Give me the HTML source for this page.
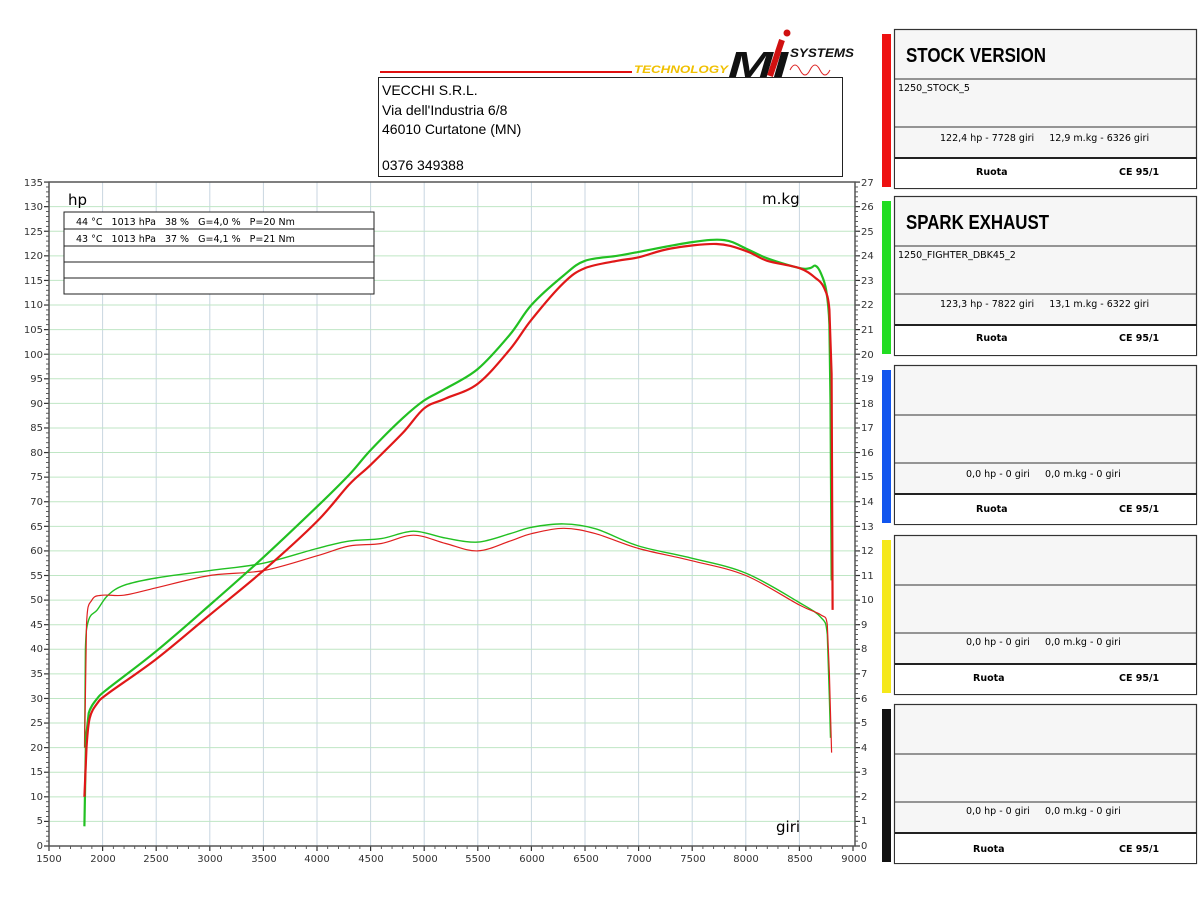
<!DOCTYPE html>
<html><head><meta charset="utf-8">
<style>
body{margin:0;background:#fff;width:1200px;height:900px;overflow:hidden}
</style></head>
<body>
<svg id="s" width="1200" height="900" viewBox="0 0 1200 900" xmlns="http://www.w3.org/2000/svg" font-family="DejaVu Sans, Liberation Sans, sans-serif">
<rect width="1200" height="900" fill="#fff"/>
<g id="grid"></g>
<!-- header -->
<line x1="380" y1="72" x2="632" y2="72" stroke="#e01010" stroke-width="2"/>
<text x="634" y="73" font-size="11" font-style="italic" font-weight="bold" fill="#f0c000" style="font-family:'Liberation Sans',sans-serif" textLength="94" lengthAdjust="spacingAndGlyphs">TECHNOLOGY</text>
<text x="728" y="77" font-size="36" font-style="italic" font-weight="bold" fill="#111" style="font-family:'Liberation Sans',sans-serif" textLength="60" lengthAdjust="spacingAndGlyphs">MI</text>
<path d="M770 76 L782 40" stroke="#d01010" stroke-width="6"/>
<circle cx="787" cy="33" r="3.5" fill="#d01010"/>
<text x="790" y="57" font-size="12" font-style="italic" font-weight="bold" fill="#111" style="font-family:'Liberation Sans',sans-serif" textLength="64" lengthAdjust="spacingAndGlyphs">SYSTEMS</text>
<path d="M790 70 q5 -10 10 0 t10 0 t10 0 t10 0" stroke="#d22" fill="none"/>
<rect x="378.5" y="77.5" width="464" height="99" fill="#fff" stroke="#222"/>
<g style="font-family:'Liberation Sans',sans-serif" font-size="14">
<text x="382" y="95">VECCHI S.R.L.</text>
<text x="382" y="115">Via dell'Industria 6/8</text>
<text x="382" y="134">46010 Curtatone (MN)</text>
<text x="382" y="170">0376 349388</text>
</g>
<!-- plot frame -->
<rect x="49" y="182" width="806" height="664" fill="none" stroke="#555" stroke-width="1.5"/>
<text x="68" y="205" font-size="15">hp</text>
<text x="762" y="204" font-size="15">m.kg</text>
<text x="776" y="832" font-size="15">giri</text>
<g stroke="#222" fill="#fff">
<rect x="64" y="212" width="310" height="82"/>
<line x1="64" y1="229" x2="374" y2="229"/><line x1="64" y1="246" x2="374" y2="246"/>
<line x1="64" y1="262" x2="374" y2="262"/><line x1="64" y1="278" x2="374" y2="278"/>
</g>
<text x="76" y="225" font-size="9.5" xml:space="preserve">44 °C   1013 hPa   38 %   G=4,0 %   P=20 Nm</text>
<text x="76" y="242" font-size="9.5" xml:space="preserve">43 °C   1013 hPa   37 %   G=4,1 %   P=21 Nm</text>
<g font-size="10" fill="#333" text-anchor="end">
<text x="43" y="849">0</text><text x="43" y="824">5</text><text x="43" y="800">10</text><text x="43" y="775">15</text><text x="43" y="751">20</text><text x="43" y="726">25</text><text x="43" y="702">30</text><text x="43" y="677">35</text><text x="43" y="652">40</text><text x="43" y="628">45</text><text x="43" y="603">50</text><text x="43" y="579">55</text><text x="43" y="554">60</text><text x="43" y="530">65</text><text x="43" y="505">70</text><text x="43" y="480">75</text><text x="43" y="456">80</text><text x="43" y="431">85</text><text x="43" y="407">90</text><text x="43" y="382">95</text><text x="43" y="358">100</text><text x="43" y="333">105</text><text x="43" y="308">110</text><text x="43" y="284">115</text><text x="43" y="259">120</text><text x="43" y="235">125</text><text x="43" y="210">130</text><text x="43" y="186">135</text>
</g>
<g font-size="10" fill="#333">
<text x="861" y="849">0</text><text x="861" y="824">1</text><text x="861" y="800">2</text><text x="861" y="775">3</text><text x="861" y="751">4</text><text x="861" y="726">5</text><text x="861" y="702">6</text><text x="861" y="677">7</text><text x="861" y="652">8</text><text x="861" y="628">9</text><text x="861" y="603">10</text><text x="861" y="579">11</text><text x="861" y="554">12</text><text x="861" y="530">13</text><text x="861" y="505">14</text><text x="861" y="480">15</text><text x="861" y="456">16</text><text x="861" y="431">17</text><text x="861" y="407">18</text><text x="861" y="382">19</text><text x="861" y="358">20</text><text x="861" y="333">21</text><text x="861" y="308">22</text><text x="861" y="284">23</text><text x="861" y="259">24</text><text x="861" y="235">25</text><text x="861" y="210">26</text><text x="861" y="186">27</text>
</g>
<g font-size="10" fill="#333" text-anchor="middle">
<text x="49" y="862">1500</text><text x="103" y="862">2000</text><text x="156" y="862">2500</text><text x="210" y="862">3000</text><text x="264" y="862">3500</text><text x="317" y="862">4000</text><text x="371" y="862">4500</text><text x="425" y="862">5000</text><text x="478" y="862">5500</text><text x="532" y="862">6000</text><text x="586" y="862">6500</text><text x="639" y="862">7000</text><text x="693" y="862">7500</text><text x="746" y="862">8000</text><text x="800" y="862">8500</text><text x="854" y="862">9000</text>
</g>
<g id="curves" fill="none" stroke-linejoin="round"></g>
<!-- right panels -->
<g id="panels"></g>
<g style="font-family:'Liberation Sans',sans-serif" font-size="20" font-weight="bold">
<text x="906" y="62" textLength="140" lengthAdjust="spacingAndGlyphs">STOCK VERSION</text>
<text x="906" y="229" textLength="143" lengthAdjust="spacingAndGlyphs">SPARK EXHAUST</text>
</g>
<g font-size="9.5">
<text x="898" y="91">1250_STOCK_5</text>
<text x="898" y="258">1250_FIGHTER_DBK45_2</text>
<text x="940" y="141" xml:space="preserve">122,4 hp - 7728 giri     12,9 m.kg - 6326 giri</text>
<text x="940" y="307" xml:space="preserve">123,3 hp - 7822 giri     13,1 m.kg - 6322 giri</text>
<text x="966" y="477" xml:space="preserve">0,0 hp - 0 giri     0,0 m.kg - 0 giri</text>
<text x="966" y="645" xml:space="preserve">0,0 hp - 0 giri     0,0 m.kg - 0 giri</text>
<text x="966" y="814" xml:space="preserve">0,0 hp - 0 giri     0,0 m.kg - 0 giri</text>
</g>
<g font-size="9.5" font-weight="bold">
<text x="976" y="175">Ruota</text><text x="1119" y="175">CE 95/1</text>
<text x="976" y="341">Ruota</text><text x="1119" y="341">CE 95/1</text>
<text x="976" y="512">Ruota</text><text x="1119" y="512">CE 95/1</text>
<text x="973" y="681">Ruota</text><text x="1119" y="681">CE 95/1</text>
<text x="973" y="852">Ruota</text><text x="1119" y="852">CE 95/1</text>
</g>
</svg>
<script>
var NS="http://www.w3.org/2000/svg";
function el(p,t,a){var e=document.createElementNS(NS,t);for(var k in a)e.setAttribute(k,a[k]);p.appendChild(e);return e;}
function X(r){return 49+(r-1500)*0.10720;}
function Y(v){return 846-v*4.918;}
var g=document.getElementById('grid');
for(var r=2000;r<9000;r+=500)el(g,'line',{x1:X(r),x2:X(r),y1:182,y2:846,stroke:'#c8d6e0','stroke-width':1});
for(var v=5;v<135;v+=5)el(g,'line',{x1:49,x2:855,y1:Y(v),y2:Y(v),stroke:'#bfe6c4','stroke-width':1});
for(var v=0;v<=135;v+=1){var big=v%5==0;el(g,'line',{x1:big?44:46,x2:49,y1:Y(v),y2:Y(v),stroke:'#333','stroke-width':big?1.2:0.8});
el(g,'line',{x1:855,x2:big?860:858,y1:Y(v),y2:Y(v),stroke:'#333','stroke-width':big?1.2:0.8});}
for(var r=1500;r<=9000;r+=100){var big=r%500==0;el(g,'line',{x1:X(r),x2:X(r),y1:846,y2:big?851:849,stroke:'#333','stroke-width':big?1.2:0.8});}
function path(pts,col,w){
var P=pts.map(function(p){return [X(p[0]),Y(p[1])];});
var d='M'+P[0][0].toFixed(1)+' '+P[0][1].toFixed(1);
for(var i=0;i<P.length-1;i++){var p0=P[i-1]||P[i],p1=P[i],p2=P[i+1],p3=P[i+2]||p2;
var c1=[p1[0]+(p2[0]-p0[0])/6,p1[1]+(p2[1]-p0[1])/6],c2=[p2[0]-(p3[0]-p1[0])/6,p2[1]-(p3[1]-p1[1])/6];
if(p2[0]-p1[0]<3){d+='L'+p2[0].toFixed(1)+' '+p2[1].toFixed(1);}else
d+='C'+c1[0].toFixed(1)+' '+c1[1].toFixed(1)+' '+c2[0].toFixed(1)+' '+c2[1].toFixed(1)+' '+p2[0].toFixed(1)+' '+p2[1].toFixed(1);}
el(document.getElementById('curves'),'path',{d:d,stroke:col,'stroke-width':w});}
var gT=[[1832,20],[1840,40],[1870,46],[1950,48],[2050,51],[2200,53],[2500,54.5],[3000,56],[3500,57.5],[4000,60.5],[4300,62],[4600,62.5],[4900,64],[5200,62.6],[5500,61.8],[5800,63.5],[6000,64.8],[6300,65.5],[6600,64.5],[7000,61],[7500,58.5],[8000,55.5],[8500,49.5],[8700,46.5],[8760,43],[8780,30],[8790,22]];
var rT=[[1832,20],[1850,45],[1900,50],[2000,51],[2200,51],[2500,52.5],[3000,55],[3500,56],[4000,59],[4300,61],[4600,61.5],[4900,63.2],[5200,61.5],[5500,60],[5800,62],[6000,63.5],[6300,64.6],[6600,63.5],[7000,60.5],[7500,58],[8000,55],[8500,49],[8700,47],[8760,45],[8780,35],[8800,19]];
var gP=[[1830,4],[1845,22],[1870,27],[1950,30],[2050,32],[2500,39.6],[3000,49],[3500,58.7],[4000,69],[4300,75.5],[4500,80.5],[4800,87],[5000,90.6],[5200,93],[5500,97],[5800,104],[6000,110],[6300,116],[6500,119],[6800,120],[7000,120.8],[7500,122.8],[7800,123.2],[8000,121.5],[8200,119.5],[8500,117.5],[8600,117.5],[8650,118],[8700,116.5],[8750,113],[8780,106],[8790,90],[8800,54]];
var rP=[[1830,10],[1850,20],[1880,26],[1950,29],[2050,31],[2500,38],[3000,47],[3500,56],[4000,66],[4300,73.5],[4500,77.5],[4800,84],[5000,89],[5200,91],[5500,94],[5800,101],[6000,107],[6300,114.5],[6500,117.5],[6800,119],[7000,119.7],[7300,121.5],[7728,122.4],[8000,121],[8200,119],[8500,117.5],[8650,115.5],[8730,113.5],[8780,109],[8800,96],[8810,48]];
path(gT,'#22c022',1.4);path(rT,'#e02020',1.2);path(gP,'#22c022',2.2);path(rP,'#e01818',2.2);
var P=document.getElementById('panels');
var tops=[29,196,365,535,704],cols=['#ee1111','#22dd22','#1155ee','#f5e81a','#111'];
tops.forEach(function(t,i){
el(P,'rect',{x:882,y:t+5,width:9,height:153,fill:cols[i]});
el(P,'rect',{x:894.5,y:t+0.5,width:302,height:159,fill:'#f6f6f6',stroke:'#333','stroke-width':1.2});
el(P,'rect',{x:895,y:t+129,width:301,height:30,fill:'#fff'});
[50,98].forEach(function(o){el(P,'line',{x1:895,x2:1197,y1:t+o,y2:t+o,stroke:'#333','stroke-width':1});});
el(P,'line',{x1:895,x2:1197,y1:t+129,y2:t+129,stroke:'#222','stroke-width':2});
});
</script>
</body></html>
